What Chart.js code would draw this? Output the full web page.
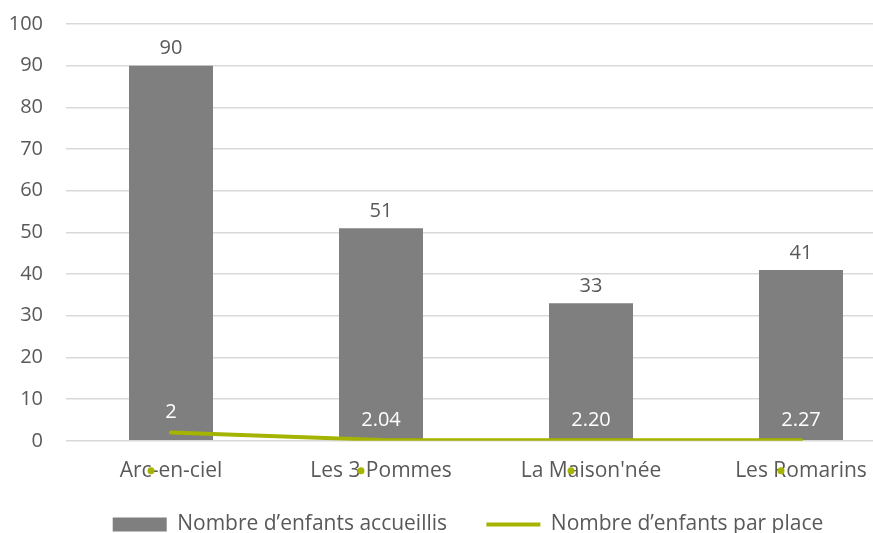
<!DOCTYPE html>
<html lang="fr">
<head>
    <meta charset="UTF-8">
    <title>Nombre d'enfants accueillis</title>
    <script src="https://cdn.jsdelivr.net/npm/chart.js"></script>
    <style>
        html, body {
            margin: 0;
            padding: 0;
            background: #ffffff;
            overflow: hidden;
        }
        .chart-box {
            width: 940px;
            height: 552px;
            margin-top: -11px;
        }
    </style>
</head>
<body>
    <div class="chart-box">
        <canvas id="enfantsChart"></canvas>
    </div>

    <script>
        // Données
        const structures = ['Arc-en-ciel', 'Les 3 Pommes', "La Maison'née", 'Les Romarins'];
        const enfantsAccueillis = [90, 51, 33, 41];
        const enfantsParPlace = [2, 0.2, 0.15, 0.15];        // position tracée de la ligne
        const etiquettesParPlace = ['2', '2.04', '2.20', '2.27']; // valeurs affichées
        const yTicks = [0, 10, 20, 30, 40, 50, 60, 70, 80, 90, 100];

        const GRIS = '#7f7f7f';
        const VERT = '#a5b400';
        const TEXTE = '#595959';
        const FONT = "'Open Sans', 'Noto Sans', sans-serif";

        // Etiquettes de valeurs + petits points verts sous les catégories
        const labelsPlugin = {
            id: 'valueLabels',
            afterLayout(chart) {
                // recentre la légende sous la partie visible
                chart.legend.left += 30;
            },
            afterDatasetsDraw(chart) {
                const ctx = chart.ctx;
                ctx.save();
                ctx.textAlign = 'center';
                ctx.textBaseline = 'middle';

                const bars = chart.getDatasetMeta(0).data;
                ctx.fillStyle = TEXTE;
                ctx.font = '20px ' + FONT;
                bars.forEach((bar, i) => {
                    ctx.fillText(String(enfantsAccueillis[i]), bar.x, bar.y - 17);
                });

                const points = chart.getDatasetMeta(1).data;
                ctx.fillStyle = '#ffffff';
                points.forEach((pt, i) => {
                    ctx.fillText(etiquettesParPlace[i], pt.x, pt.y - 20);
                });

                // points verts près des libellés de l'axe
                const xs = chart.scales.x;
                ctx.fillStyle = VERT;
                structures.forEach((s, i) => {
                    const cx = xs.getPixelForTick(i) - 20;
                    ctx.beginPath();
                    ctx.arc(cx, xs.top + 30, 3.5, 0, Math.PI * 2);
                    ctx.fill();
                });
                ctx.restore();
            }
        };

        const config = {
            type: 'bar',
            data: {
                labels: structures,
                datasets: [
                    {
                        type: 'bar',
                        label: 'Nombre d\u2019enfants accueillis',
                        data: enfantsAccueillis,
                        backgroundColor: GRIS,
                        borderWidth: 0,
                        barPercentage: 0.4,
                        categoryPercentage: 1.0,
                        pointStyle: 'rect',
                        order: 1
                    },
                    {
                        type: 'line',
                        label: 'Nombre d\u2019enfants par place',
                        data: enfantsParPlace,
                        borderColor: VERT,
                        backgroundColor: VERT,
                        borderWidth: 4,
                        borderCapStyle: 'round',
                        pointRadius: 0,
                        pointStyle: 'line',
                        tension: 0,
                        order: 0
                    }
                ]
            },
            options: {
                responsive: true,
                maintainAspectRatio: false,
                animation: false,
                layout: {
                    padding: { top: 0, right: 34, left: 0, bottom: -4 }
                },
                plugins: {
                    legend: {
                        position: 'bottom',
                        labels: {
                            usePointStyle: true,
                            pointStyleWidth: 54,
                            boxHeight: 14,
                            padding: 12,
                            color: TEXTE,
                            font: { family: FONT, size: 21 },
                            sort: (a, b) => a.datasetIndex - b.datasetIndex,
                            generateLabels: (chart) => {
                                const items = Chart.defaults.plugins.legend.labels.generateLabels(chart);
                                // espace entre les deux entrées
                                const barItem = items.find(it => it.datasetIndex === 0);
                                barItem.text = barItem.text + '\u00a0\u00a0\u00a0\u00a0\u00a0';
                                return items;
                            }
                        }
                    },
                    tooltip: { enabled: false }
                },
                scales: {
                    x: {
                        grid: { display: false, drawTicks: false, tickLength: 0 },
                        border: { display: false },
                        ticks: {
                            color: TEXTE,
                            padding: 18,
                            font: { family: FONT, size: 21 }
                        }
                    },
                    y: {
                        min: 0,
                        max: 100,
                        afterBuildTicks: (scale) => {
                            scale.ticks = yTicks.map(v => ({ value: v }));
                        },
                        grid: {
                            color: '#d9d9d9',
                            lineWidth: 1.5,
                            drawTicks: false
                        },
                        border: { display: false },
                        ticks: {
                            color: TEXTE,
                            padding: 23,
                            font: { family: FONT, size: 20 }
                        },
                        afterFit: (scale) => { scale.width = 66; }
                    }
                }
            },
            plugins: [labelsPlugin]
        };

        new Chart(document.getElementById('enfantsChart'), config);
    </script>
</body>
</html>
